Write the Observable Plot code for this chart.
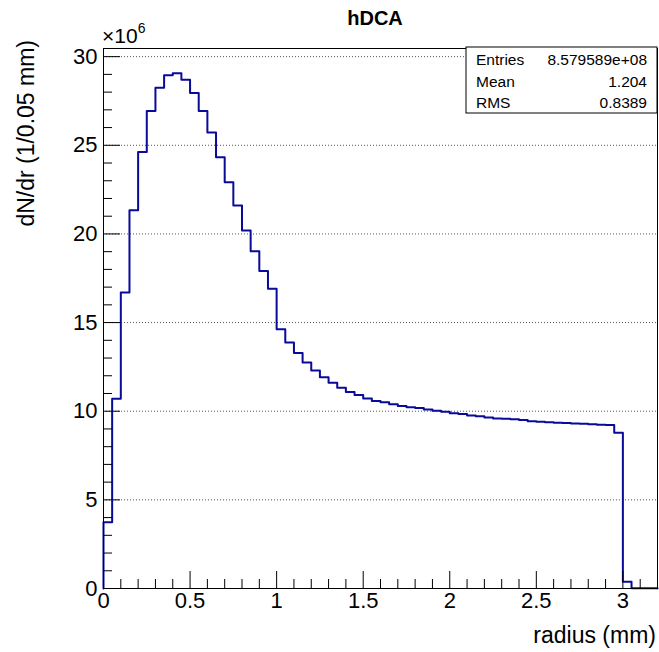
<!DOCTYPE html>
<html>
<head>
<meta charset="utf-8">
<script src="https://cdn.jsdelivr.net/npm/d3@7"></script>
<script src="https://cdn.jsdelivr.net/npm/@observablehq/plot@0.6"></script>
<style>
  html, body { margin: 0; padding: 0; background: #fff; }
  #chart { width: 659px; height: 652px; }
</style>
</head>
<body>
<div id="chart"></div>
<script>
// ---- data (values in units of 10^6) ----
const binWidth = 0.05;
const counts = [
  3.74, 10.70, 16.69, 21.33, 24.62, 26.94, 28.25, 28.95, 29.06, 28.70,
  27.95, 26.94, 25.72, 24.32, 22.91, 21.60, 20.20, 19.02, 17.91, 16.91,
  14.63, 13.88, 13.28, 12.75, 12.30, 11.92, 11.61, 11.33, 11.08, 10.91,
  10.72, 10.57, 10.50, 10.40, 10.29, 10.23, 10.18, 10.10, 10.03, 9.97,
  9.89, 9.84, 9.76, 9.71, 9.65, 9.59, 9.57, 9.54, 9.50, 9.44,
  9.41, 9.38, 9.35, 9.33, 9.31, 9.29, 9.27, 9.24, 9.22, 8.79,
  0.38, 0.02, 0.01, 0.01
];
const xMajor = [0, 0.5, 1, 1.5, 2, 2.5, 3];
const xMinor = [0.1,0.2,0.3,0.4,0.6,0.7,0.8,0.9,1.1,1.2,1.3,1.4,1.6,1.7,1.8,1.9,2.1,2.2,2.3,2.4,2.6,2.7,2.8,2.9,3.1];
const xTickLabels = ["0", "0.5", "1", "1.5", "2", "2.5", "3"];
const yMajor = [0, 5, 10, 15, 20, 25, 30];
const yMinor = [1,2,3,4,6,7,8,9,11,12,13,14,16,17,18,19,21,22,23,24,26,27,28,29];
const yTickLabels = ["0", "5", "10", "15", "20", "25", "30"];
const statLabels = ["Entries", "Mean", "RMS"];
const statValues = ["8.579589e+08", "1.204", "0.8389"];
const titleText = "hDCA";
const xTitle = "radius (mm)";
const yTitle = "dN/dr (1/0.05 mm)";

// step outline of the histogram
const nBins = counts.length;
const outline = [{x: 0, y: 0}]
  .concat(counts.map((v, i) => ({x: i * binWidth, y: v})))
  .concat([{x: nBins * binWidth, y: counts[nBins - 1]}, {x: nBins * binWidth, y: 0}]);

const font = "'Liberation Sans', Arial, Helvetica, sans-serif";
const lineColor = "#0a0a9a";

const chart = Plot.plot({
  width: 659,
  height: 652,
  marginLeft: 103,
  marginRight: 2,
  marginTop: 48,
  marginBottom: 64,
  style: {fontFamily: font, background: "white", color: "black", overflow: "visible"},
  x: {domain: [0, nBins * binWidth]},
  y: {domain: [0, 30.46]},
  marks: [
    Plot.gridY(yMajor.filter(v => v > 0), {stroke: "#555", strokeOpacity: 1, strokeDasharray: "1,2", strokeWidth: 1}),
    Plot.line(outline, {x: "x", y: "y", curve: "step-after", stroke: lineColor, strokeWidth: 2}),
    // ticks pointing inwards (ROOT style)
    Plot.axisX({ticks: xMinor, tickSize: -9, tickFormat: () => "", label: null, stroke: "black", strokeOpacity: 1}),
    Plot.axisX({ticks: xMajor, tickSize: -17, tickFormat: () => "", label: null, stroke: "black", strokeOpacity: 1}),
    Plot.axisX({ticks: xMajor, tickSize: 0, tickPadding: 4, fontSize: 22, label: null,
      tickFormat: d => xTickLabels[xMajor.indexOf(d)], fill: "black"}),
    Plot.axisY({ticks: yMinor, tickSize: -9, tickFormat: () => "", label: null, stroke: "black", strokeOpacity: 1}),
    Plot.axisY({ticks: yMajor, tickSize: -17, tickFormat: () => "", label: null, stroke: "black", strokeOpacity: 1}),
    Plot.axisY({ticks: yMajor, tickSize: 0, tickPadding: 6, fontSize: 22, label: null,
      tickFormat: d => yTickLabels[yMajor.indexOf(d)], fill: "black"}),
    Plot.frame({stroke: "black", strokeWidth: 1})
  ]
});

document.getElementById("chart").appendChild(chart);

// ---- annotations (title, axis titles, multiplier, stats box) ----
const svg = d3.select(chart);
const g = svg.append("g").attr("font-family", font).attr("fill", "black").attr("text-anchor", "start");

g.append("text").attr("x", 375).attr("y", 25).attr("text-anchor", "middle")
  .attr("font-size", 20).attr("font-weight", "bold").text(titleText);

g.append("text").attr("x", 656).attr("y", 643).attr("text-anchor", "end")
  .attr("font-size", 23).text(xTitle);

g.append("text").attr("transform", "translate(34,40) rotate(-90)").attr("text-anchor", "end")
  .attr("font-size", 23).text(yTitle);

const mult = g.append("text").attr("x", 102).attr("y", 43).attr("font-size", 21).attr("text-anchor", "start");
mult.append("tspan").text("\u00d710");
mult.append("tspan").attr("font-size", 14).attr("dy", -10).text("6");

const box = g.append("g");
box.append("rect").attr("x", 466).attr("y", 47).attr("width", 191).attr("height", 66)
  .attr("fill", "white").attr("stroke", "black").attr("stroke-width", 1);
statLabels.forEach((lab, i) => {
  box.append("text").attr("x", 476).attr("y", 65 + i * 21.5).attr("font-size", 15.5)
    .attr("text-anchor", "start").text(lab);
  box.append("text").attr("x", 647).attr("y", 65 + i * 21.5).attr("font-size", 15.5)
    .attr("text-anchor", "end").text(statValues[i]);
});
</script>
</body>
</html>
